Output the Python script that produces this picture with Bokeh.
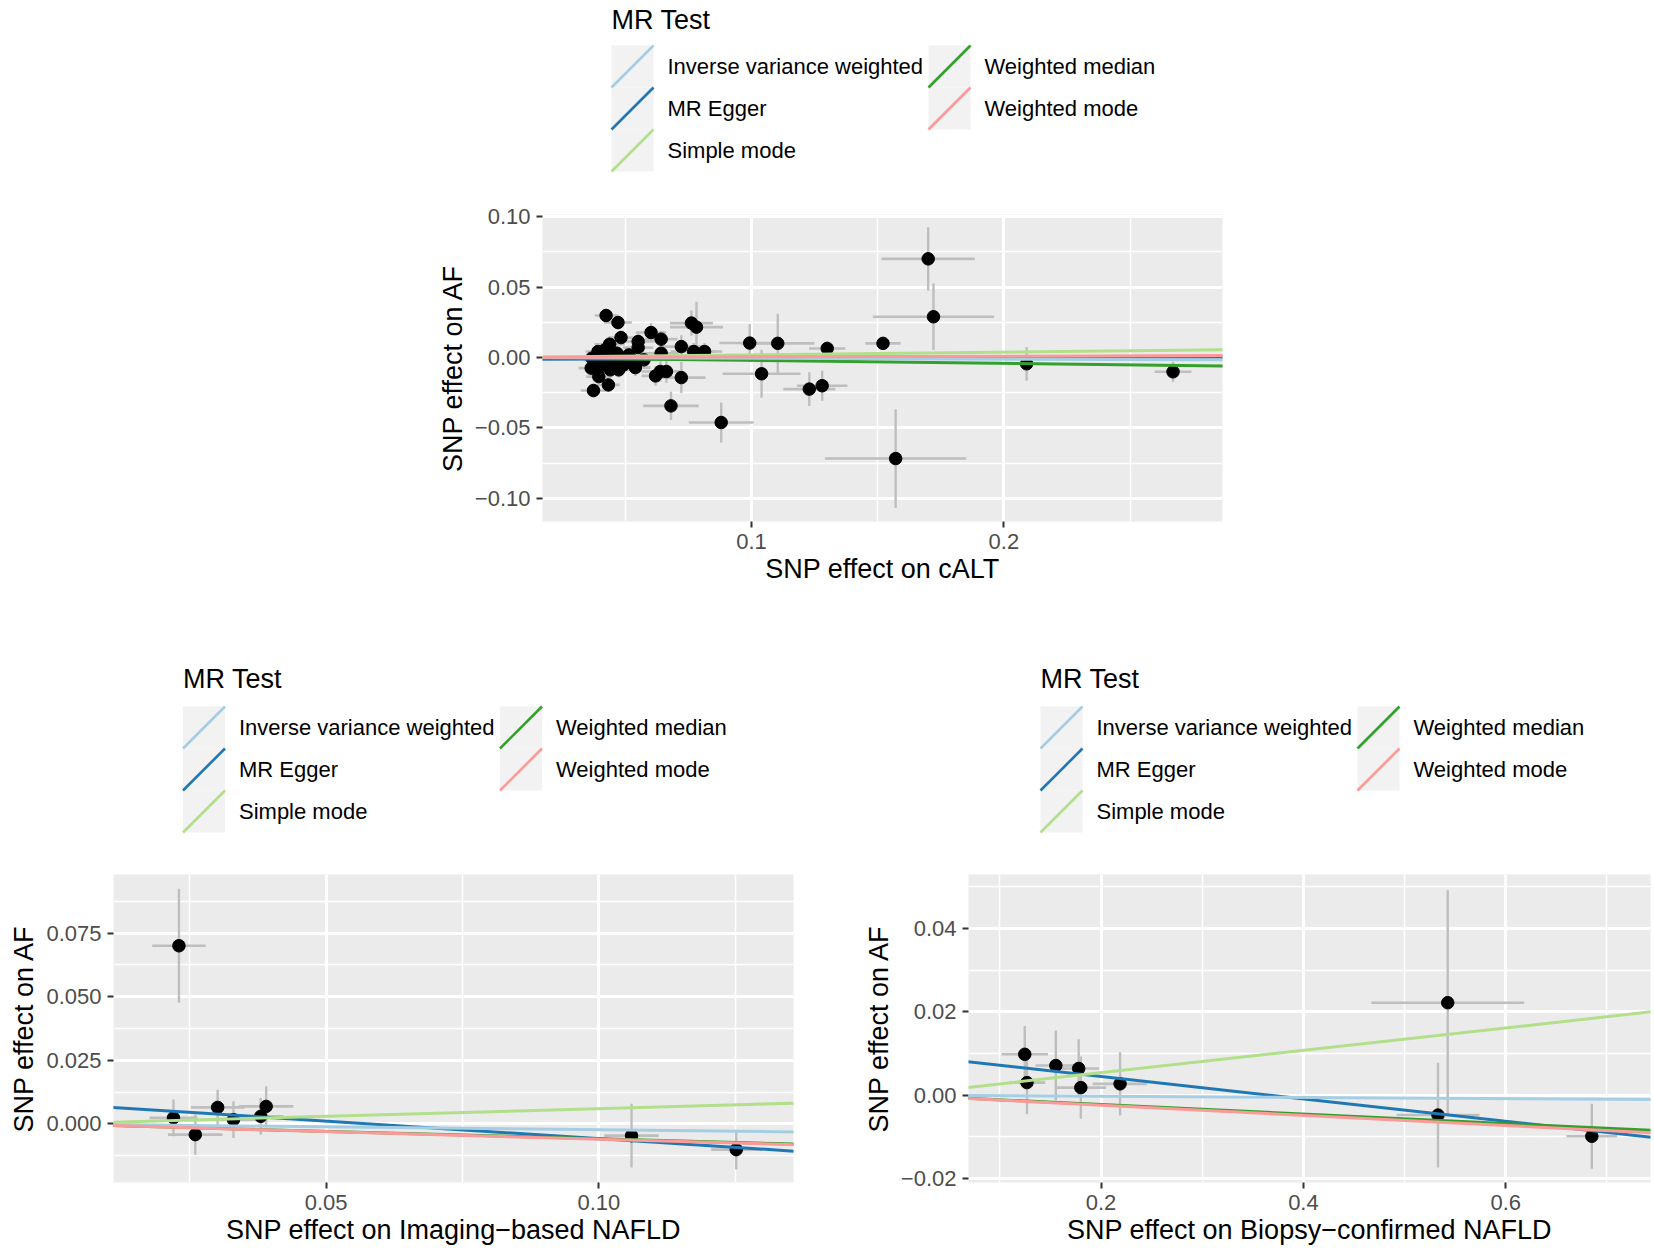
from bokeh.plotting import figure
from bokeh.models import Range1d, FixedTicker, Slope
from bokeh.layouts import column, row
from bokeh.embed import file_html
from bokeh.resources import INLINE
from bokeh.core.properties import value

FONT = "Liberation Sans"

# ---------------- shared legend data ----------------
legend_title = "MR Test"
methods = ["Inverse variance weighted", "MR Egger", "Simple mode",
           "Weighted median", "Weighted mode"]
method_colors = ["#A6CEE3", "#1F78B4", "#B2DF8A", "#33A02C", "#FB9A99"]
draw_order = [1, 3, 0, 2, 4]

# ---------------- panel 1: cALT ----------------
calt_bx = [0.0424, 0.0471, 0.0483, 0.0438, 0.0392, 0.0551, 0.0551, 0.0602, 0.0642, 0.0642,
           0.0762, 0.0782, 0.0722, 0.0771, 0.0814, 0.0993, 0.0639, 0.0663, 0.0620, 0.0722,
           0.0681, 0.0880, 0.1040, 0.0374, 0.0433, 0.0395, 0.0365, 0.0441, 0.0474, 0.0540,
           0.0574, 0.0514, 0.0381, 0.0414, 0.0454, 0.0487, 0.0433, 0.0493, 0.0401, 0.0526,
           0.0467, 0.0368, 0.0420,
           0.1104, 0.1300, 0.1229, 0.1280, 0.1521, 0.1700, 0.1721, 0.1571, 0.2090, 0.2670]
calt_by = [0.0298, 0.0248, 0.0141, 0.0094, 0.0042, 0.0113, 0.0070, 0.0177, 0.0130, 0.0030,
           0.0244, 0.0215, 0.0077, 0.0042, 0.0042, 0.0102, -0.0100, -0.0100, -0.0131, -0.0143,
           -0.0344, -0.0462, -0.0116, -0.0235, -0.0195, -0.0136, -0.0076, -0.0088, -0.0088, -0.0072,
           -0.0017, 0.0018, -0.0017, 0.0006, -0.0017, -0.0005, -0.0053, -0.0053, -0.0065, -0.0017,
           0.0030, -0.0005, 0.0054,
           0.0100, 0.0064, -0.0225, -0.0201, 0.0100, 0.0700, 0.0289, -0.0718, -0.0045, -0.0102]
calt_se_x = [0.0045, 0.0055, 0.0050, 0.0060, 0.0050, 0.0065, 0.0060, 0.0060, 0.0065, 0.0070,
             0.0085, 0.0105, 0.0085, 0.0090, 0.0070, 0.0120, 0.0075, 0.0065, 0.0055, 0.0096,
             0.0110, 0.0128, 0.0154, 0.0050, 0.0045, 0.0050, 0.0050, 0.0050, 0.0055, 0.0060,
             0.0065, 0.0055, 0.0045, 0.0050, 0.0050, 0.0055, 0.0050, 0.0055, 0.0050, 0.0060,
             0.0055, 0.0045, 0.0050,
             0.0145, 0.0072, 0.0103, 0.0100, 0.0070, 0.0185, 0.0240, 0.0280, 0.0030, 0.0073]
calt_se_y = [0.0045, 0.0050, 0.0050, 0.0055, 0.0045, 0.0060, 0.0055, 0.0065, 0.0060, 0.0060,
             0.0090, 0.0180, 0.0080, 0.0060, 0.0060, 0.0135, 0.0070, 0.0080, 0.0070, 0.0110,
             0.0100, 0.0142, 0.0170, 0.0050, 0.0050, 0.0050, 0.0055, 0.0050, 0.0055, 0.0060,
             0.0050, 0.0050, 0.0050, 0.0045, 0.0050, 0.0050, 0.0050, 0.0055, 0.0050, 0.0055,
             0.0050, 0.0050, 0.0050,
             0.0210, 0.0050, 0.0120, 0.0107, 0.0040, 0.0225, 0.0237, 0.0350, 0.0120, 0.0071]
calt_intercepts = [0.0, -0.0013, 0.0, 0.0, 0.0]
calt_slopes = [-0.0059, 0.0052, 0.0188, -0.0210, 0.0045]
calt_xlabel = "SNP effect on cALT"
calt_xticks = [0.1, 0.2]
calt_xticklabels = ["0.1", "0.2"]
calt_xminor = [0.05, 0.15, 0.25]
calt_yticks = [-0.10, -0.05, 0.0, 0.05, 0.10]
calt_yticklabels = ["\u22120.10", "\u22120.05", "0.00", "0.05", "0.10"]
calt_yminor = [-0.075, -0.025, 0.025, 0.075]
calt_xlim = (0.0172, 0.2866)
calt_ylim = (-0.1165, 0.1015)

# ---------------- panel 2: Imaging-based NAFLD ----------------
img_bx = [0.0230, 0.0220, 0.0260, 0.0301, 0.0330, 0.0380, 0.0390, 0.1060, 0.1252]
img_by = [0.0700, 0.0024, -0.0042, 0.0065, 0.0017, 0.0030, 0.0069, -0.0046, -0.0101]
img_se_x = [0.0049, 0.0044, 0.0050, 0.0049, 0.0046, 0.0042, 0.0050, 0.0050, 0.0046]
img_se_y = [0.0224, 0.0072, 0.0079, 0.0069, 0.0072, 0.0072, 0.0079, 0.0125, 0.0078]
img_intercepts = [0.0, 0.0080, 0.0, 0.0, 0.0]
img_slopes = [-0.023, -0.1376, 0.060, -0.058, -0.060]
img_xlabel = "SNP effect on Imaging\u2212based NAFLD"
img_xticks = [0.05, 0.10]
img_xticklabels = ["0.05", "0.10"]
img_xminor = [0.025, 0.075, 0.125]
img_yticks = [0.0, 0.025, 0.050, 0.075]
img_yticklabels = ["0.000", "0.025", "0.050", "0.075"]
img_yminor = [-0.0125, 0.0125, 0.0375, 0.0625, 0.0875]
img_xlim = (0.0110, 0.1357)
img_ylim = (-0.0230, 0.0980)

# ---------------- panel 3: Biopsy-confirmed NAFLD ----------------
bio_bx = [0.1246, 0.1268, 0.1553, 0.1779, 0.1800, 0.2188, 0.5426, 0.5330, 0.6850]
bio_by = [0.0098, 0.0030, 0.0071, 0.0064, 0.0018, 0.0027, 0.0222, -0.0048, -0.0099]
bio_se_x = [0.0230, 0.0180, 0.0200, 0.0200, 0.0250, 0.0270, 0.0755, 0.0410, 0.0250]
bio_se_y = [0.0068, 0.0076, 0.0084, 0.0070, 0.0075, 0.0076, 0.0270, 0.0126, 0.0078]
bio_intercepts = [0.0, 0.00985, 0.0, 0.0, 0.0]
bio_slopes = [-0.0014, -0.0269, 0.0269, -0.0114, -0.0122]
bio_xlabel = "SNP effect on Biopsy\u2212confirmed NAFLD"
bio_xticks = [0.2, 0.4, 0.6]
bio_xticklabels = ["0.2", "0.4", "0.6"]
bio_xminor = [0.1, 0.3, 0.5, 0.7]
bio_yticks = [-0.02, 0.0, 0.02, 0.04]
bio_yticklabels = ["\u22120.02", "0.00", "0.02", "0.04"]
bio_yminor = [-0.01, 0.01, 0.03, 0.05]
bio_xlim = (0.0690, 0.7430)
bio_ylim = (-0.0210, 0.0530)

ylabel = "SNP effect on AF"


def scatter_panel(bx, by, sx, sy, icpt, slopes, xlabel, xt, xtl, xm, yt, ytl, ym,
                  xlim, ylim, width, height, bl, br, bt, bb):
    p = figure(width=width, height=height, x_range=Range1d(*xlim), y_range=Range1d(*ylim),
               output_backend="svg", toolbar_location=None,
               min_border_left=bl, min_border_right=br, min_border_top=bt, min_border_bottom=bb,
               background_fill_color="#EBEBEB", border_fill_color="white",
               outline_line_color=None)
    p.xaxis.ticker = FixedTicker(ticks=xt, minor_ticks=xm)
    p.yaxis.ticker = FixedTicker(ticks=yt, minor_ticks=ym)
    p.xaxis.major_label_overrides = dict(zip(xt, xtl))
    p.yaxis.major_label_overrides = dict(zip(yt, ytl))
    p.xaxis.axis_label = xlabel
    p.yaxis.axis_label = ylabel
    for ax in (p.xaxis[0], p.yaxis[0]):
        ax.axis_line_color = None
        ax.major_tick_line_color = "#333333"
        ax.major_tick_line_width = 2
        ax.major_tick_out = 6
        ax.major_tick_in = 0
        ax.minor_tick_line_color = None
        ax.major_label_text_font = FONT
        ax.major_label_text_font_size = "22px"
        ax.major_label_text_color = "#4D4D4D"
        ax.axis_label_text_font = FONT
        ax.axis_label_text_font_size = "27px"
        ax.axis_label_text_font_style = "normal"
        ax.axis_label_text_color = "black"
    p.xaxis.major_label_standoff = 6
    p.xaxis.axis_label_standoff = 2
    p.yaxis.major_label_standoff = 6
    p.yaxis.axis_label_standoff = 4
    for g in (p.xgrid[0], p.ygrid[0]):
        g.grid_line_color = "white"
        g.grid_line_width = 3
        g.minor_grid_line_color = "white"
        g.minor_grid_line_width = 1.5

    # error bars (vertical and horizontal) then points, then the MR fit lines
    p.segment(x0=bx, x1=bx, y0=[b - s for b, s in zip(by, sy)], y1=[b + s for b, s in zip(by, sy)],
              line_color="#BEBEBE", line_width=2.4)
    p.segment(x0=[b - s for b, s in zip(bx, sx)], x1=[b + s for b, s in zip(bx, sx)], y0=by, y1=by,
              line_color="#BEBEBE", line_width=2.6)
    p.scatter(x=bx, y=by, size=12.5, fill_color="black", line_color="black")
    for i in draw_order:
        p.add_layout(Slope(gradient=slopes[i], y_intercept=icpt[i],
                           line_color=method_colors[i], line_width=3))
    return p


def legend_panel(width, height, ytop, anchors, title_y, rows_top):
    ybot = ytop + height
    p = figure(width=width, height=height, x_range=Range1d(0, width),
               y_range=Range1d(ybot, ytop), output_backend="svg", toolbar_location=None,
               x_axis_type=None, y_axis_type=None, min_border=0,
               background_fill_color="white", border_fill_color="white",
               outline_line_color=None)
    key = 42
    col_dx = 317
    text_dx = 56
    for ax0 in anchors:
        p.text(x=[ax0], y=[title_y], text=[legend_title],
               text_font=value(FONT), text_font_size="27px", text_color="black",
               text_baseline="middle", text_align="left")
        kl, kr, kt, kb, tx, ty = [], [], [], [], [], []
        for i, m in enumerate(methods):
            c, r = i // 3, i % 3
            left = ax0 + c * col_dx
            top = rows_top + r * key
            kl.append(left)
            kr.append(left + key)
            kt.append(top)
            kb.append(top + key)
            tx.append(left + text_dx)
            ty.append(top + key / 2)
        p.quad(left=kl, right=kr, top=kt, bottom=kb, fill_color="#F2F2F2", line_color=None)
        p.segment(x0=kl, y0=kb, x1=kr, y1=kt, line_color=method_colors, line_width=2.6)
        p.text(x=tx, y=ty, text=methods, text_font=value(FONT), text_font_size="22px",
               text_color="black", text_baseline="middle", text_align="left")
    return p


# page rows (page starts at 0,0): 0..190 | 190..600 | 600..857 | 857..1252
leg_top = legend_panel(1654, 190, 0, [611], 19, 45)
p_top = scatter_panel(calt_bx, calt_by, calt_se_x, calt_se_y, calt_intercepts, calt_slopes,
                      calt_xlabel, calt_xticks, calt_xticklabels, calt_xminor,
                      calt_yticks, calt_yticklabels, calt_yminor, calt_xlim, calt_ylim,
                      1654, 410, 542, 432, 24, 79)
leg_bot = legend_panel(1654, 257, 600, [182.5, 1040], 678, 706)
p_img = scatter_panel(img_bx, img_by, img_se_x, img_se_y, img_intercepts, img_slopes,
                      img_xlabel, img_xticks, img_xticklabels, img_xminor,
                      img_yticks, img_yticklabels, img_yminor, img_xlim, img_ylim,
                      827, 394, 113, 34, 17, 69)
p_bio = scatter_panel(bio_bx, bio_by, bio_se_x, bio_se_y, bio_intercepts, bio_slopes,
                      bio_xlabel, bio_xticks, bio_xticklabels, bio_xminor,
                      bio_yticks, bio_yticklabels, bio_yminor, bio_xlim, bio_ylim,
                      827, 394, 141, 4, 17, 69)

layout = column(row(leg_top), row(p_top), row(leg_bot), row(p_img, p_bio))

open("out.html", "w").write(file_html(layout, INLINE))
